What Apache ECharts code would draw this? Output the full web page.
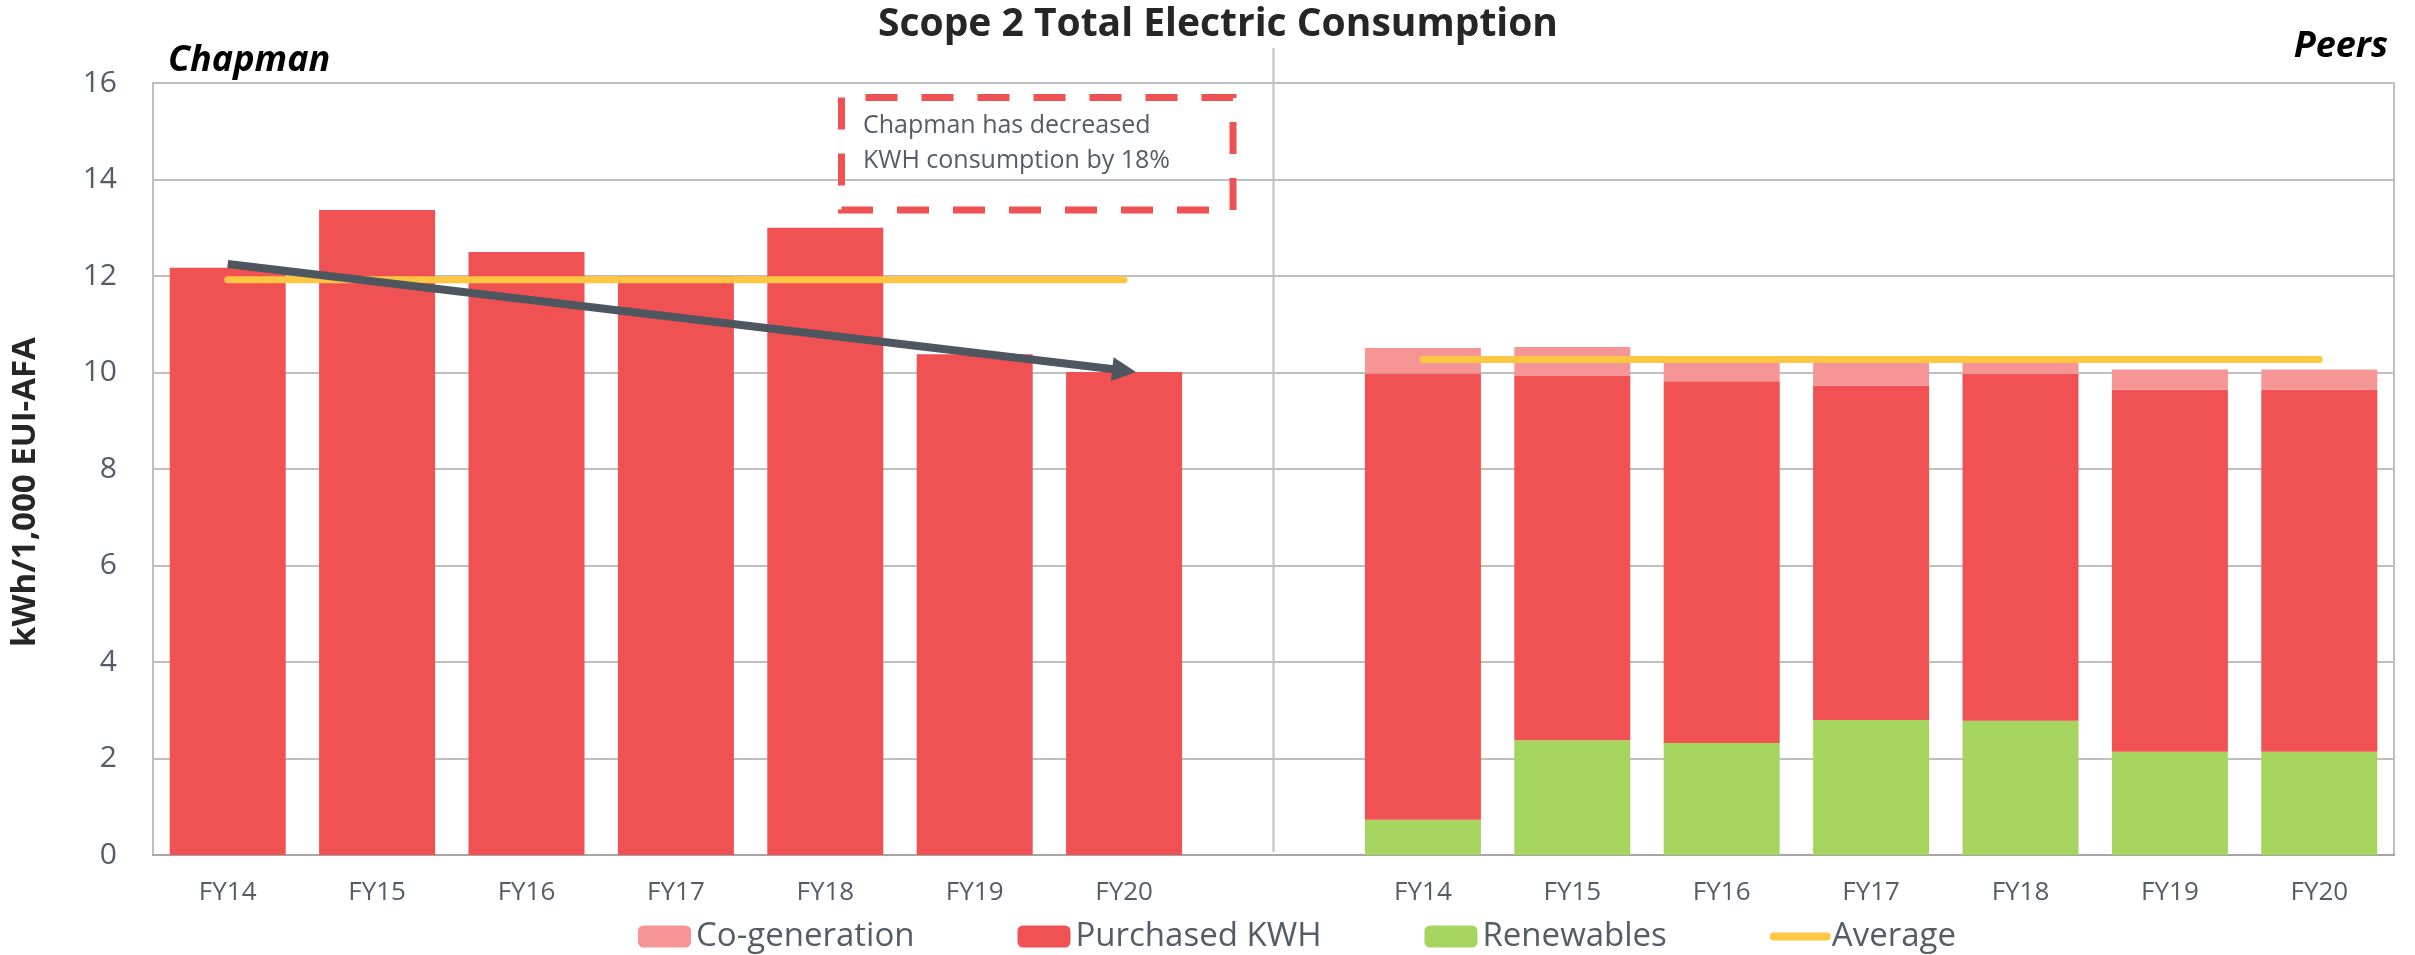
<!DOCTYPE html>
<html>
<head>
<meta charset="utf-8">
<title>Scope 2 Total Electric Consumption</title>
<script src="https://cdn.jsdelivr.net/npm/echarts@6/dist/echarts.min.js"></script>
<style>
	html, body { margin: 0; padding: 0; background: #fff; }
	#main { width: 2415px; height: 955px; }
</style>
</head>
<body>
<div id="main"></div>
<script>
(function () {

	// 年份（左右两组共用）
	var years = ['FY14', 'FY15', 'FY16', 'FY17', 'FY18', 'FY19', 'FY20'];

	// Chapman
	var chapmanPurchased = [12.17, 13.37, 12.50, 12.00, 13.00, 10.38, 10.01];
	var chapmanAverage = 11.92;

	// Peers 堆叠段
	var peersRenewables = [0.73, 2.38, 2.32, 2.80, 2.78, 2.14, 2.14];
	var peersPurchased = [9.25, 7.55, 7.50, 6.93, 7.19, 7.50, 7.50];
	var peersCogen = [0.53, 0.60, 0.44, 0.53, 0.25, 0.42, 0.42];
	var peersAverage = 10.27;

	// y 轴刻度
	var yMin = 0, yMax = 16, yStep = 2;

	// 箭头 (category index, value)
	var arrowFrom = [0.18, 12.25];
	var arrowTo = [5.985, 10.04];

	var font = '"Open Sans", "Noto Sans", sans-serif';
	var textColor = '#545d67';
	var gridColor = '#bfbfbf';

	function fill(n, v) {
		var arr = [];
		for (var i = 0; i < n; i++) {
			arr.push(v);
		}
		return arr;
	}

	var blank = fill(years.length, '-');
	var categories = years.concat([''], years);

	function setChart() {
		var option = {
			animation: false,
			backgroundColor: '#fff',
			grid: {
				left: 153,
				right: 21,
				top: 83,
				bottom: 100,
				show: true,
				borderColor: gridColor,
				borderWidth: 2,
				outerBoundsMode: 'none'
			},
			legend: {
				left: 638,
				top: 920,
				padding: 0,
				itemWidth: 53,
				itemHeight: 22,
				itemGap: 103,
				textStyle: {
					fontFamily: font,
					fontSize: 33,
					color: textColor
				},
				data: [
					'Co-generation',
					'Purchased KWH',
					'Renewables',
					{ name: 'Average', itemStyle: { opacity: 0 }, lineStyle: { width: 8, cap: 'round' } }
				]
			},
			xAxis: {
				type: 'category',
				data: categories,
				axisLine: {
					lineStyle: { color: '#a6a6a6', width: 2 }
				},
				axisTick: { show: false },
				splitLine: { show: false },
				axisLabel: {
					fontFamily: font,
					fontSize: 26,
					color: textColor,
					margin: 25,
					interval: 0
				}
			},
			yAxis: {
				type: 'value',
				min: yMin,
				max: yMax,
				interval: yStep,
				axisLine: {
					show: true,
					lineStyle: { color: gridColor, width: 2 }
				},
				axisTick: { show: false },
				splitLine: {
					lineStyle: { color: gridColor, width: 2 }
				},
				axisLabel: {
					fontFamily: font,
					fontSize: 30,
					color: textColor,
					margin: 36
				}
			},
			series: [
				{
					name: 'Renewables',
					type: 'bar',
					stack: 'total',
					barWidth: 116,
					data: blank.concat(['-'], peersRenewables),
					itemStyle: { color: '#a6d55f' },
					emphasis: { disabled: true }
				},
				{
					name: 'Purchased KWH',
					type: 'bar',
					stack: 'total',
					barWidth: 116,
					data: chapmanPurchased.concat(['-'], peersPurchased),
					itemStyle: { color: '#f05152' },
					emphasis: { disabled: true }
				},
				{
					name: 'Co-generation',
					type: 'bar',
					stack: 'total',
					barWidth: 116,
					data: blank.concat(['-'], peersCogen),
					itemStyle: { color: '#f69596' },
					emphasis: { disabled: true }
				},
				{
					name: 'Average',
					type: 'line',
					symbol: 'none',
					z: 4,
					data: fill(years.length, chapmanAverage).concat(['-'], fill(years.length, peersAverage)),
					lineStyle: { color: '#ffc641', width: 7, cap: 'round' },
					itemStyle: { color: '#ffc641' },
					emphasis: { disabled: true },
					markLine: {
						silent: true,
						symbol: ['none', 'triangle'],
						symbolSize: 24,
						label: { show: false },
						lineStyle: { color: '#4e5660', width: 8, type: 'solid' },
						itemStyle: { color: '#4e5660' },
						data: [
							[{ coord: arrowFrom }, { coord: arrowTo }]
						]
					}
				}
			],
			graphic: [
				{
					id: 'title',
					type: 'text',
					x: 1218,
					y: 25,
					style: {
						text: 'Scope 2 Total Electric Consumption',
						fontFamily: font,
						fontWeight: 'bold',
						fontSize: 39,
						fill: '#262626',
						align: 'center',
						verticalAlign: 'middle'
					}
				},
				{
					id: 'chapman',
					type: 'text',
					x: 168,
					y: 61,
					style: {
						text: 'Chapman',
						fontFamily: font,
						fontWeight: 'bold',
						fontStyle: 'italic',
						fontSize: 36,
						fill: '#000',
						align: 'left',
						verticalAlign: 'middle'
					}
				},
				{
					id: 'peers',
					type: 'text',
					x: 2388,
					y: 47,
					style: {
						text: 'Peers',
						fontFamily: font,
						fontWeight: 'bold',
						fontStyle: 'italic',
						fontSize: 36,
						fill: '#000',
						align: 'right',
						verticalAlign: 'middle'
					}
				},
				{
					id: 'ytitle',
					type: 'text',
					x: 26,
					y: 492,
					rotation: Math.PI / 2,
					style: {
						text: 'kWh/1,000 EUI-AFA',
						fontFamily: font,
						fontWeight: 'bold',
						fontSize: 33,
						fill: '#262626',
						align: 'center',
						verticalAlign: 'middle'
					}
				},
				{
					id: 'noteBox',
					type: 'rect',
					z: 10,
					shape: { x: 841.5, y: 97.5, width: 391.5, height: 112.5 },
					style: {
						fill: 'transparent',
						stroke: '#f05152',
						lineWidth: 7,
						lineDash: [32, 24],
						lineDashOffset: 32
					}
				},
				{
					id: 'noteText',
					type: 'text',
					z: 10,
					x: 863,
					y: 108.5,
					style: {
						text: 'Chapman has decreased\nKWH consumption by 18%',
						fontFamily: font,
						fontSize: 25,
						lineHeight: 35,
						fill: textColor,
						align: 'left',
						verticalAlign: 'top'
					}
				}
			]
		};

		var chart = echarts.init(document.getElementById('main'));
		chart.setOption(option);

		// 中间分隔线，取空白类目的位置
		var xd = chart.convertToPixel({ xAxisIndex: 0 }, 7);
		var y0 = chart.convertToPixel({ yAxisIndex: 0 }, 0);
		chart.setOption({
			graphic: [{
				id: 'divider',
				type: 'line',
				shape: { x1: xd, y1: 48, x2: xd, y2: y0 - 3 },
				style: { stroke: gridColor, lineWidth: 2 }
			}]
		});
	}

	setChart();

})();
</script>
</body>
</html>
